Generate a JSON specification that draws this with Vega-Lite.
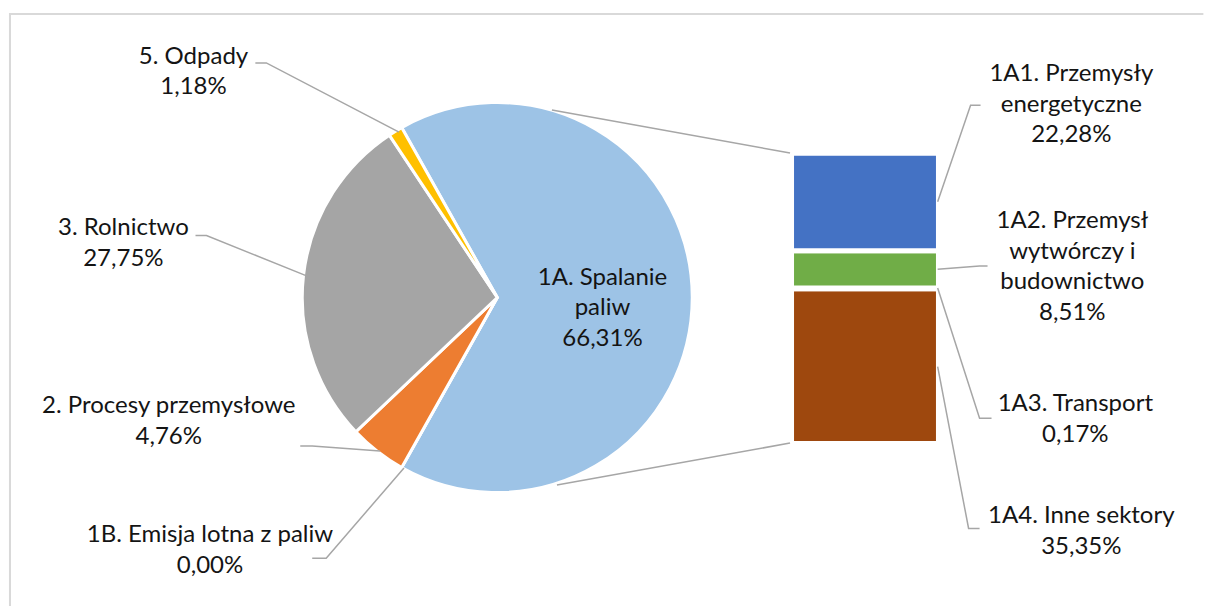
{
  "$schema": "https://vega.github.io/schema/vega-lite/v6.json",
  "width": 1208,
  "height": 610,
  "autosize": {"type": "fit", "contains": "padding"},
  "padding": 0,
  "background": "white",
  "config": {"view": {"stroke": null}},
  "datasets": {
    "pie": [
      {"name": "1A. Spalanie paliw", "value": 66.31, "ord": 1},
      {"name": "1B. Emisja lotna z paliw", "value": 0.0, "ord": 2},
      {"name": "2. Procesy przemysłowe", "value": 4.76, "ord": 3},
      {"name": "3. Rolnictwo", "value": 27.75, "ord": 4},
      {"name": "5. Odpady", "value": 1.18, "ord": 5}
    ],
    "bar": [
      {"name": "1A4. Inne sektory", "value": 35.35, "ord": 1},
      {"name": "1A3. Transport", "value": 0.17, "ord": 2},
      {"name": "1A2. Przemysł wytwórczy i budownictwo", "value": 8.51, "ord": 3},
      {"name": "1A1. Przemysły energetyczne", "value": 22.28, "ord": 4}
    ],
    "labels": [
      {"t": "5. Odpady\n1,18%", "x": -1.5615, "y": 1.2062},
      {"t": "3. Rolnictwo\n27,75%", "x": -1.9221, "y": 0.3221},
      {"t": "2. Procesy przemysłowe\n4,76%", "x": -1.6887, "y": -0.5974},
      {"t": "1B. Emisja lotna z paliw\n0,00%", "x": -1.4769, "y": -1.2626},
      {"t": "1A. Spalanie\npaliw\n66,31%", "x": 0.541, "y": 0.0656},
      {"t": "1A1. Przemysły\nenergetyczne\n22,28%", "x": 2.9513, "y": 1.1169},
      {"t": "1A2. Przemysł\nwytwórczy i\nbudownictwo\n8,51%", "x": 2.9564, "y": 0.3564},
      {"t": "1A3. Transport\n0,17%", "x": 2.9718, "y": -0.5872},
      {"t": "1A4. Inne sektory\n35,35%", "x": 3.0026, "y": -1.1651}
    ],
    "lines": [
      {"id": "odpady", "k": 1, "x": -1.2436, "y": 1.2113},
      {"id": "odpady", "k": 2, "x": -1.1872, "y": 1.2113},
      {"id": "odpady", "k": 3, "x": -0.5051, "y": 0.8538},
      {"id": "rolnictwo", "k": 1, "x": -1.5513, "y": 0.3205},
      {"id": "rolnictwo", "k": 2, "x": -1.4949, "y": 0.3205},
      {"id": "rolnictwo", "k": 3, "x": -0.9769, "y": 0.1103},
      {"id": "procesy", "k": 1, "x": -1.0128, "y": -0.7667},
      {"id": "procesy", "k": 2, "x": -0.9513, "y": -0.7667},
      {"id": "procesy", "k": 3, "x": -0.6026, "y": -0.7923},
      {"id": "1b", "k": 1, "x": -0.9513, "y": -1.3462},
      {"id": "1b", "k": 2, "x": -0.8795, "y": -1.3462},
      {"id": "1b", "k": 3, "x": -0.4795, "y": -0.8795},
      {"id": "1a1", "k": 1, "x": 2.2641, "y": 0.4949},
      {"id": "1a1", "k": 2, "x": 2.4333, "y": 0.9923},
      {"id": "1a1", "k": 3, "x": 2.4846, "y": 0.9923},
      {"id": "1a2", "k": 1, "x": 2.2641, "y": 0.1462},
      {"id": "1a2", "k": 2, "x": 2.4795, "y": 0.1631},
      {"id": "1a2", "k": 3, "x": 2.5205, "y": 0.1631},
      {"id": "1a3", "k": 1, "x": 2.2641, "y": 0.0487},
      {"id": "1a3", "k": 2, "x": 2.4795, "y": -0.6231},
      {"id": "1a3", "k": 3, "x": 2.541, "y": -0.6231},
      {"id": "1a4", "k": 1, "x": 2.2641, "y": -0.3564},
      {"id": "1a4", "k": 2, "x": 2.4231, "y": -1.1923},
      {"id": "1a4", "k": 3, "x": 2.4795, "y": -1.1923},
      {"id": "conn_top", "k": 1, "x": 0.281, "y": 0.9682},
      {"id": "conn_top", "k": 2, "x": 1.5051, "y": 0.7462},
      {"id": "conn_bottom", "k": 1, "x": 0.3067, "y": -0.9682},
      {"id": "conn_bottom", "k": 2, "x": 1.5051, "y": -0.7513}
    ],
    "frame": [
      {"k": 1, "x": -2.5051, "y": -1.5923},
      {"k": 2, "x": -2.5051, "y": 1.4631},
      {"k": 3, "x": 3.63, "y": 1.4631}
    ]
  },
  "layer": [
    {
      "data": {"name": "bar"},
      "transform": [
        {"stack": "value", "groupby": [], "sort": [{"field": "ord", "order": "ascending"}], "as": ["v0", "v1"]}
      ],
      "mark": {"type": "rect", "stroke": "white", "strokeWidth": 5},
      "encoding": {
        "x": {"datum": 1.5128, "type": "quantitative", "scale": {"domain": [-2.5564, 3.6333], "nice": false, "zero": false}, "axis": null},
        "x2": {"datum": 2.2682},
        "y": {"field": "v0", "type": "quantitative", "scale": {"domain": [-37.091, 101.292], "nice": false, "zero": false}, "axis": null},
        "y2": {"field": "v1"},
        "color": {
          "field": "name", "type": "nominal", "legend": null,
          "scale": {
            "domain": ["1A. Spalanie paliw", "1B. Emisja lotna z paliw", "2. Procesy przemysłowe", "3. Rolnictwo", "5. Odpady", "1A1. Przemysły energetyczne", "1A2. Przemysł wytwórczy i budownictwo", "1A3. Transport", "1A4. Inne sektory"],
            "range": ["#9DC3E6", "#5B9BD5", "#ED7D31", "#A5A5A5", "#FFC000", "#4472C4", "#70AD47", "#264478", "#9E480E"]
          }
        }
      }
    },
    {
      "layer": [
        {
          "data": {"name": "pie"},
          "mark": {"type": "arc", "outerRadius": 195, "stroke": "white", "strokeWidth": 3},
          "encoding": {
            "x": {"datum": 0, "type": "quantitative", "scale": {"domain": [-2.5564, 3.6333], "nice": false, "zero": false}, "axis": null},
            "y": {"datum": 0, "type": "quantitative", "scale": {"domain": [-1.5923, 1.5359], "nice": false, "zero": false}, "axis": null},
            "theta": {"field": "value", "type": "quantitative", "scale": {"range": [-0.51239, 5.7708]}},
            "order": {"field": "ord", "type": "quantitative"},
            "color": {
              "field": "name", "type": "nominal", "legend": null,
              "scale": {
                "domain": ["1A. Spalanie paliw", "1B. Emisja lotna z paliw", "2. Procesy przemysłowe", "3. Rolnictwo", "5. Odpady", "1A1. Przemysły energetyczne", "1A2. Przemysł wytwórczy i budownictwo", "1A3. Transport", "1A4. Inne sektory"],
                "range": ["#9DC3E6", "#5B9BD5", "#ED7D31", "#A5A5A5", "#FFC000", "#4472C4", "#70AD47", "#264478", "#9E480E"]
              }
            }
          }
        },
        {
          "data": {"name": "lines"},
          "mark": {"type": "line", "color": "#A6A6A6", "strokeWidth": 1.5},
          "encoding": {
            "x": {"field": "x", "type": "quantitative", "scale": {"domain": [-2.5564, 3.6333], "nice": false, "zero": false}, "axis": null},
            "y": {"field": "y", "type": "quantitative", "scale": {"domain": [-1.5923, 1.5359], "nice": false, "zero": false}, "axis": null},
            "detail": {"field": "id", "type": "nominal"},
            "order": {"field": "k", "type": "quantitative"}
          }
        },
        {
          "data": {"name": "frame"},
          "mark": {"type": "line", "color": "#D9D9D9", "strokeWidth": 2},
          "encoding": {
            "x": {"field": "x", "type": "quantitative", "scale": {"domain": [-2.5564, 3.6333], "nice": false, "zero": false}, "axis": null},
            "y": {"field": "y", "type": "quantitative", "scale": {"domain": [-1.5923, 1.5359], "nice": false, "zero": false}, "axis": null},
            "order": {"field": "k", "type": "quantitative"}
          }
        },
        {
          "data": {"name": "labels"},
          "mark": {"type": "text", "font": "Lato", "fontSize": 24, "color": "#141414", "align": "center", "baseline": "alphabetic", "lineBreak": "\n", "lineHeight": 30.5},
          "encoding": {
            "x": {"field": "x", "type": "quantitative", "scale": {"domain": [-2.5564, 3.6333], "nice": false, "zero": false}, "axis": null},
            "y": {"field": "y", "type": "quantitative", "scale": {"domain": [-1.5923, 1.5359], "nice": false, "zero": false}, "axis": null},
            "text": {"field": "t", "type": "nominal"}
          }
        }
      ]
    }
  ],
  "resolve": {"scale": {"y": "independent"}}
}
